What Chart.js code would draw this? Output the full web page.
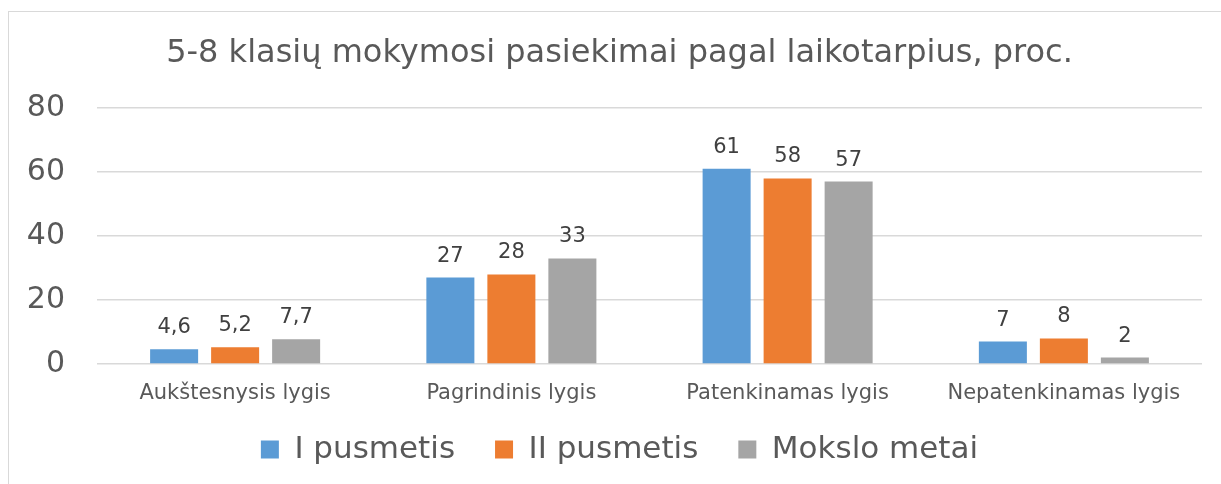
<!DOCTYPE html>
<html>
<head>
<meta charset="utf-8">
<script src="https://cdn.jsdelivr.net/npm/chart.js@4.4.1/dist/chart.umd.min.js"></script>
<style>
  html, body { margin: 0; padding: 0; background: #ffffff; }
  #wrap { position: relative; width: 1221px; height: 484px; overflow: hidden; }
  #frame { position: absolute; left: 8px; top: 11px; width: 1300px; height: 600px; border: 1px solid #d9d9d9; box-sizing: border-box; }
  #c { position: absolute; left: 0; top: 0; }
</style>
</head>
<body>
<div id="wrap">
  <div id="frame"></div>
  <canvas id="c" width="1221" height="484"></canvas>
</div>
<script>
const titleText = "5-8 klasių mokymosi pasiekimai pagal laikotarpius, proc.";
const categories = ["Aukštesnysis lygis", "Pagrindinis lygis", "Patenkinamas lygis", "Nepatenkinamas lygis"];
const seriesNames = ["I pusmetis", "II pusmetis", "Mokslo metai"];
const iPusmetis = [4.6, 27, 61, 7];
const iiPusmetis = [5.2, 28, 58, 8];
const moksloMetai = [7.7, 33, 57, 2];
const yTicks = [0, 20, 40, 60, 80];
const seriesColors = ["#5b9bd5", "#ed7d31", "#a5a5a5"];

const FONT = "'DejaVu Sans', Verdana, sans-serif";

const dataLabels = {
  id: "dataLabels",
  afterDatasetsDraw(chart) {
    const ctx = chart.ctx;
    ctx.save();
    ctx.font = "21px " + FONT;
    ctx.fillStyle = "#404040";
    ctx.textAlign = "center";
    ctx.textBaseline = "alphabetic";
    chart.data.datasets.forEach((ds, i) => {
      const meta = chart.getDatasetMeta(i);
      meta.data.forEach((bar, j) => {
        const v = ds.data[j];
        const txt = String(v).replace(".", ",");
        ctx.fillText(txt, bar.x, bar.y - 16);
      });
    });
    ctx.restore();
  }
};

// let tick labels extend beyond their scale boxes (no clipping)
const noLabelClip = {
  id: "noLabelClip",
  beforeDraw(chart) {
    Object.values(chart.scales).forEach(s => { s._computeLabelArea = () => undefined; });
  }
};

new Chart(document.getElementById("c"), {
  type: "bar",
  data: {
    labels: categories,
    datasets: [
      { label: seriesNames[0], data: iPusmetis, backgroundColor: seriesColors[0] },
      { label: seriesNames[1], data: iiPusmetis, backgroundColor: seriesColors[1] },
      { label: seriesNames[2], data: moksloMetai, backgroundColor: seriesColors[2] }
    ]
  },
  options: {
    responsive: false,
    animation: false,
    devicePixelRatio: 1,
    categoryPercentage: 0.6625,
    barPercentage: 0.787,
    layout: { padding: { left: 37, right: 19, top: 0, bottom: 9 } },
    plugins: {
      title: {
        display: true,
        text: titleText,
        color: "#595959",
        font: { family: FONT, size: 32, weight: "normal" },
        padding: { top: 34, bottom: 35.6 }
      },
      legend: {
        display: true,
        position: "bottom",
        labels: {
          color: "#595959",
          font: { family: FONT, size: 31 },
          boxWidth: 18,
          boxHeight: 18,
          padding: 40
        }
      },
      tooltip: { enabled: false }
    },
    scales: {
      x: {
        grid: { display: false, drawTicks: false },
        border: { display: false },
        afterFit(scale) { scale.height = 30; },
        ticks: { color: "#595959", font: { family: FONT, size: 21 }, padding: 17 }
      },
      y: {
        min: 0,
        max: 80,
        afterBuildTicks(scale) { scale.ticks = yTicks.map(v => ({ value: v })); },
        afterFit(scale) { scale.width = 60; },
        grid: { color: "#d9d9d9", lineWidth: 1.5, drawTicks: false },
        border: { display: false },
        ticks: { color: "#595959", font: { family: FONT, size: 30 }, padding: 32 }
      }
    }
  },
  plugins: [dataLabels, noLabelClip]
});
</script>
</body>
</html>
